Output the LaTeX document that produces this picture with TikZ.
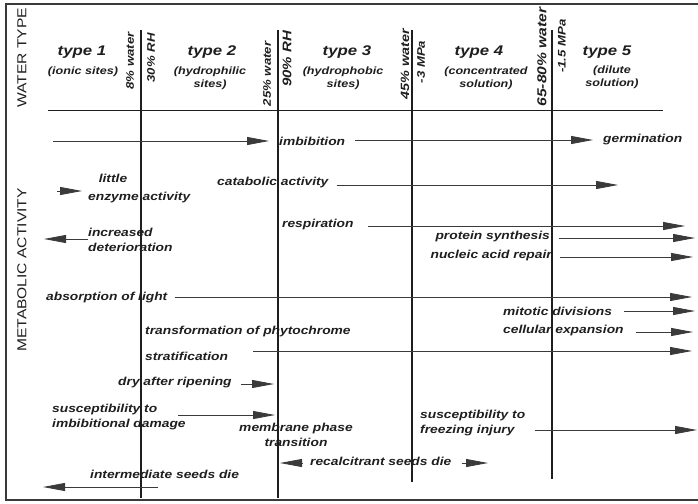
\documentclass[tikz,border=0pt]{standalone}
\usepackage{fontspec}
\setmainfont{Liberation Sans}[FakeStretch=1.2]
\usetikzlibrary{arrows.meta}
\definecolor{ink}{HTML}{1E1E1E}
\definecolor{linegray}{HTML}{3A3A3A}
\begin{document}
\begin{tikzpicture}[x=1pt,y=-1pt,
  lbl/.style={font=\fontsize{11.5}{15}\selectfont\bfseries\itshape, text=ink, inner sep=0pt},
  typ/.style={font=\fontsize{14}{16}\selectfont\bfseries\itshape, text=ink, inner sep=0pt},
  sub/.style={font=\fontsize{10.5}{13}\selectfont\bfseries\itshape, text=ink, inner sep=0pt, align=center},
  rot/.style={font=\fontsize{11}{13}\selectfont\bfseries\itshape, text=ink, inner sep=0pt, rotate=90},
  axis/.style={font=\fontsize{13}{15}\selectfont, text=ink, inner sep=0pt, rotate=90},
  arr/.style={draw=linegray, line width=0.8pt, -{Triangle[length=22pt,width=8pt]}},
  vline/.style={draw=ink, line width=1.1pt},
  frame/.style={draw=linegray, line width=1.6pt}]
\useasboundingbox (0,0) rectangle (698,503);

% frame
\coordinate (fr1) at (698,4);
\coordinate (fr2) at (6,4);
\coordinate (fr3) at (6,500);
\coordinate (fr4) at (698,500);
\draw[frame] (fr1) -- (fr2) -- (fr3) -- (fr4);

% axis titles
\node[axis] (wt) at (22,58) {WATER TYPE};
\node[axis] (ma) at (22,270) {METABOLIC ACTIVITY};

% header rule
\coordinate (hl) at (48,110);
\coordinate (hr) at (663,110);
\draw[vline, line width=1pt] (hl) -- (hr);

% vertical boundaries
\coordinate (v1t) at (141,30); \coordinate (v1b) at (141,498);
\coordinate (v2t) at (278,30); \coordinate (v2b) at (278,498);
\coordinate (v3t) at (412,30); \coordinate (v3b) at (412,482);
\coordinate (v4t) at (552,30); \coordinate (v4b) at (552,479);
\draw[vline] (v1t) -- (v1b);
\draw[vline] (v2t) -- (v2b);
\draw[vline] (v3t) -- (v3b);
\draw[vline] (v4t) -- (v4b);

% boundary labels
\node[rot] (w8) at (130,61) {8\% water};
\node[rot] (rh30) at (151,58) {30\% RH};
\node[rot] (w25) at (267,74) {25\% water};
\node[rot,font=\fontsize{12.5}{14}\selectfont\bfseries\itshape] (rh90) at (287,59) {90\% RH};
\node[rot,font=\fontsize{12}{14}\selectfont\bfseries\itshape] (w45) at (405,64) {45\% water};
\node[rot] (mp3) at (421,62) {-3 MPa};
\node[rot,font=\fontsize{13}{14}\selectfont\bfseries\itshape] (w65) at (542,57) {65-80\% water};
\node[rot] (mp15) at (562,46) {-1.5 MPa};

% water types
\node[typ] (t1) at (82,52) {type 1};
\node[sub] (t1s) at (83,72) {(ionic sites)};
\node[typ] (t2) at (212,52) {type 2};
\node[sub] (t2s) at (210,78) {(hydrophilic\\sites)};
\node[typ] (t3) at (347,52) {type 3};
\node[sub] (t3s) at (343,78) {(hydrophobic\\sites)};
\node[typ] (t4) at (479,52) {type 4};
\node[sub] (t4s) at (486,78) {(concentrated\\solution)};
\node[typ] (t5) at (607,52) {type 5};
\node[sub] (t5s) at (612,77) {(dilute\\solution)};

% imbibition / germination
\node[lbl,anchor=west] (imb) at (279,141) {imbibition};
\node[lbl,anchor=west] (germ) at (603,140) {germination};
\coordinate (imbS) at (53,141);
\draw[arr] (imbS) -- ([xshift=-10pt]imb.west);
\draw[arr] ([xshift=10pt]imb.east|-germ.west) -- ([xshift=-10pt]germ.west);

% little enzyme activity
\node[lbl] (lit) at (113,178) {little};
\node[lbl,anchor=west] (enz) at (88,198) {enzyme activity};
\coordinate (litS) at (57,191);
\draw[arr] (litS) -- ([xshift=-6pt]enz.west|-litS);

% catabolic activity
\node[lbl,anchor=west] (cat) at (217,183) {catabolic activity};
\coordinate (catE) at (618,185);
\draw[arr] ([xshift=8pt]cat.east|-catE) -- (catE);

% increased deterioration
\node[lbl,anchor=west,align=left] (det) at (88,240) {increased\\deterioration};
\coordinate (detE) at (44,239);
\draw[arr] (det.west|-detE) -- (detE);

% respiration
\node[lbl,anchor=west] (resp) at (282,225) {respiration};
\coordinate (respE) at (685,226);
\draw[arr] ([xshift=14pt]resp.east|-respE) -- (respE);

% protein synthesis
\node[lbl,anchor=east] (prot) at (550,237) {protein synthesis};
\coordinate (protE) at (695,238);
\draw[arr] ([xshift=9pt]prot.east|-protE) -- (protE);

% nucleic acid repair
\node[lbl,anchor=east] (nuc) at (552,256) {nucleic acid repair};
\coordinate (nucE) at (693,257);
\draw[arr] ([xshift=8pt]nuc.east|-nucE) -- (nucE);

% absorption of light
\node[lbl,anchor=west] (abs) at (46,298) {absorption of light};
\coordinate (absE) at (692,297);
\draw[arr] ([xshift=7pt]abs.east|-absE) -- (absE);

% mitotic divisions
\node[lbl,anchor=west] (mit) at (503,311) {mitotic divisions};
\coordinate (mitE) at (695,311);
\draw[arr] ([xshift=12pt]mit.east|-mitE) -- (mitE);

% cellular expansion
\node[lbl,anchor=west] (cell) at (503,331) {cellular expansion};
\coordinate (cellE) at (693,332);
\draw[arr] ([xshift=12pt]cell.east|-cellE) -- (cellE);

% phytochrome
\node[lbl,anchor=west] (phy) at (145,332) {transformation of phytochrome};

% stratification
\node[lbl,anchor=west] (strat) at (145,356) {stratification};
\coordinate (stratS) at (253,351);
\coordinate (stratE) at (692,351);
\draw[arr] (stratS) -- (stratE);

% dry after ripening
\node[lbl,anchor=west] (dry) at (118,383) {dry after ripening};
\coordinate (dryE) at (274,384);
\draw[arr] ([xshift=9pt]dry.east|-dryE) -- (dryE);

% imbibitional damage
\node[lbl,anchor=west,align=left,font=\fontsize{11.5}{15.5}\selectfont\bfseries\itshape] (imd) at (52,417) {susceptibility to\\imbibitional damage};
\coordinate (imdS) at (178,415);
\coordinate (imdE) at (275,415);
\draw[arr] (imdS) -- (imdE);

% membrane phase transition
\node[lbl,align=center] (mem) at (296,435) {membrane phase\\transition};

% recalcitrant seeds die
\node[lbl,anchor=west] (rec) at (310,461) {recalcitrant seeds die};
\coordinate (recL) at (280,463);
\coordinate (recR) at (488,463);
\draw[arr] ([xshift=-7pt]rec.west|-recL) -- (recL);
\draw[arr] ([xshift=10pt]rec.east|-recR) -- (recR);

% freezing injury
\node[lbl,anchor=west,align=left] (frz) at (420,423) {susceptibility to\\freezing injury};
\coordinate (frzS) at (535,430);
\coordinate (frzE) at (697,430);
\draw[arr] (frzS) -- (frzE);

% intermediate seeds die
\node[lbl,anchor=west] (int) at (90,474) {intermediate seeds die};
\coordinate (intS) at (158,487);
\coordinate (intE) at (43,487);
\draw[arr] (intS) -- (intE);
\end{tikzpicture}
\end{document}
